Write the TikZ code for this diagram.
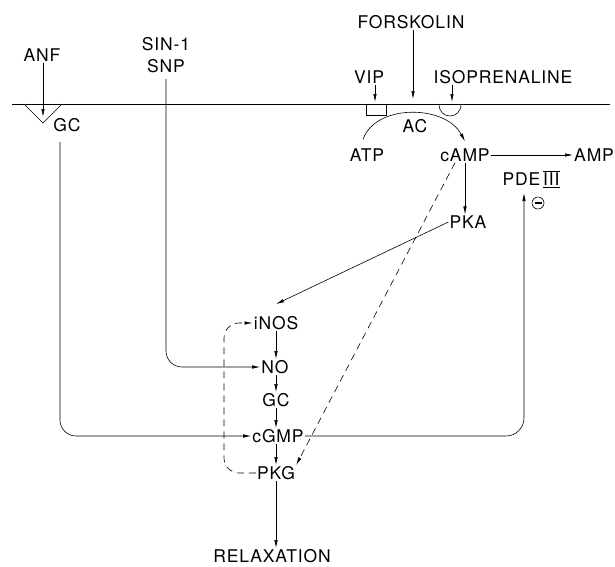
\documentclass[tikz,border=0pt]{standalone}
\usepackage{fontspec}
\setmainfont[LetterSpace=5]{TeX Gyre Heros}
\usetikzlibrary{arrows.meta,calc}
\newcommand{\romthree}{$\overline{\underline{\hbox{III}}}$}

\begin{document}
\begin{tikzpicture}[
    x=1pt, y=-1pt,
    font=\fontsize{17.5}{20}\selectfont,
    lbl/.style={inner sep=1pt},
    ln/.style={line width=0.6pt},
    arr/.style={ln, -{Latex[length=8pt,width=3.4pt]}},
    dsh/.style={arr, dash pattern=on 7pt off 5pt},
    inhib/.style={circle, draw, ln, inner sep=0pt, minimum size=12pt},
]
\useasboundingbox (0,0) rectangle (615,566);

% Labels
\node[lbl] (anf)   at (42,55)  {ANF};
\node[lbl] (gcm)   at (67,125) {GC};
\node[lbl] (sin)   at (166,44) {SIN-1};
\node[lbl] (snp)   at (166,66) {SNP};
\node[lbl] (forsk) at (411,22) {FORSKOLIN};
\node[lbl] (vip)   at (369,77) {VIP};
\node[lbl] (iso)   at (503,77) {ISOPRENALINE};
\node[lbl] (ac)    at (415,126) {AC};
\node[lbl] (atp)   at (367,155) {ATP};
\node[lbl] (camp)  at (465,155) {cAMP};
\node[lbl, anchor=west] (amp) at (573,155) {AMP};
\node[lbl] (pde)   at (531,179) {PDE\,\romthree};
\node[inhib] (inh) at (538,203) {\rule{7pt}{1.3pt}};
\node[lbl] (pka)   at (468,222) {PKA};
\node[lbl] (inos)  at (276,323) {iNOS};
\node[lbl] (no)    at (275,367) {NO};
\node[lbl] (gc)    at (276,400) {GC};
\node[lbl] (cgmp)  at (278,436) {cGMP};
\node[lbl] (pkg)   at (276,473) {PKG};
\node[lbl] (relax) at (272,556) {RELAXATION};

% Membrane and receptors
\draw[ln] (12,104) -- (610,104);
\draw[ln] (24,104) -- (43,123) -- (62,104);
\draw[ln] (366,104) rectangle (386,115);
\draw[ln] (439,104) .. controls (439,120) and (461,120) .. (461,104);

\coordinate (gc-in)  at (43,117);
\coordinate (gc-out) at (60,142);
\coordinate (ac-top) at (413,99);
\coordinate (vip-r)  at (375,102);
\coordinate (iso-r)  at (452,102);
\coordinate (pde-in) at (524,193);
\coordinate (loop)   at (224,0);

% Arrows at the membrane
\draw[arr] (anf.south -| gc-in) -- (gc-in);
\draw[arr] (forsk.south -| ac-top) -- (ac-top);
\draw[arr] (vip.south -| vip-r) -- (vip-r);
\draw[arr] (iso.south -| iso-r) -- (iso-r);
\draw[arr] ([shift={(-4,-8)}]atp.north) .. controls (375,104) and (445,104) .. ([shift={(0,-6)}]camp.north);
\draw[arr] (camp) -- (amp);

% Main chain
\draw[arr] (camp.south) -- (camp.south |- pka.north);
\draw[arr] (pka.west) -- ([yshift=11pt]inos.north);
\draw[arr] (inos.south) -- (inos.south |- no.north);
\draw[arr] (no.south -| gc.north) -- (gc.north);
\draw[arr] (gc.south) -- (gc.south |- cgmp.north);
\draw[arr] (cgmp.south -| pkg.north) -- (pkg.north);
\draw[arr] (pkg.south) -- (pkg.south |- relax.north);

% Long connectors
\draw[arr, rounded corners=16pt] (gc-out) |- (cgmp.west);
\draw[arr, rounded corners=16pt] ([yshift=-5pt]snp.south) |- (no.west);
\draw[arr, rounded corners=18pt] (cgmp.east) -| (pde-in);
\draw[dsh] ([xshift=-10pt]camp.south) -- (pkg.north east);
\draw[dsh, rounded corners=15pt] (pkg.west) -- (pkg.west -| loop) -- (inos.west -| loop) -- (inos.west);

\end{tikzpicture}
\end{document}
